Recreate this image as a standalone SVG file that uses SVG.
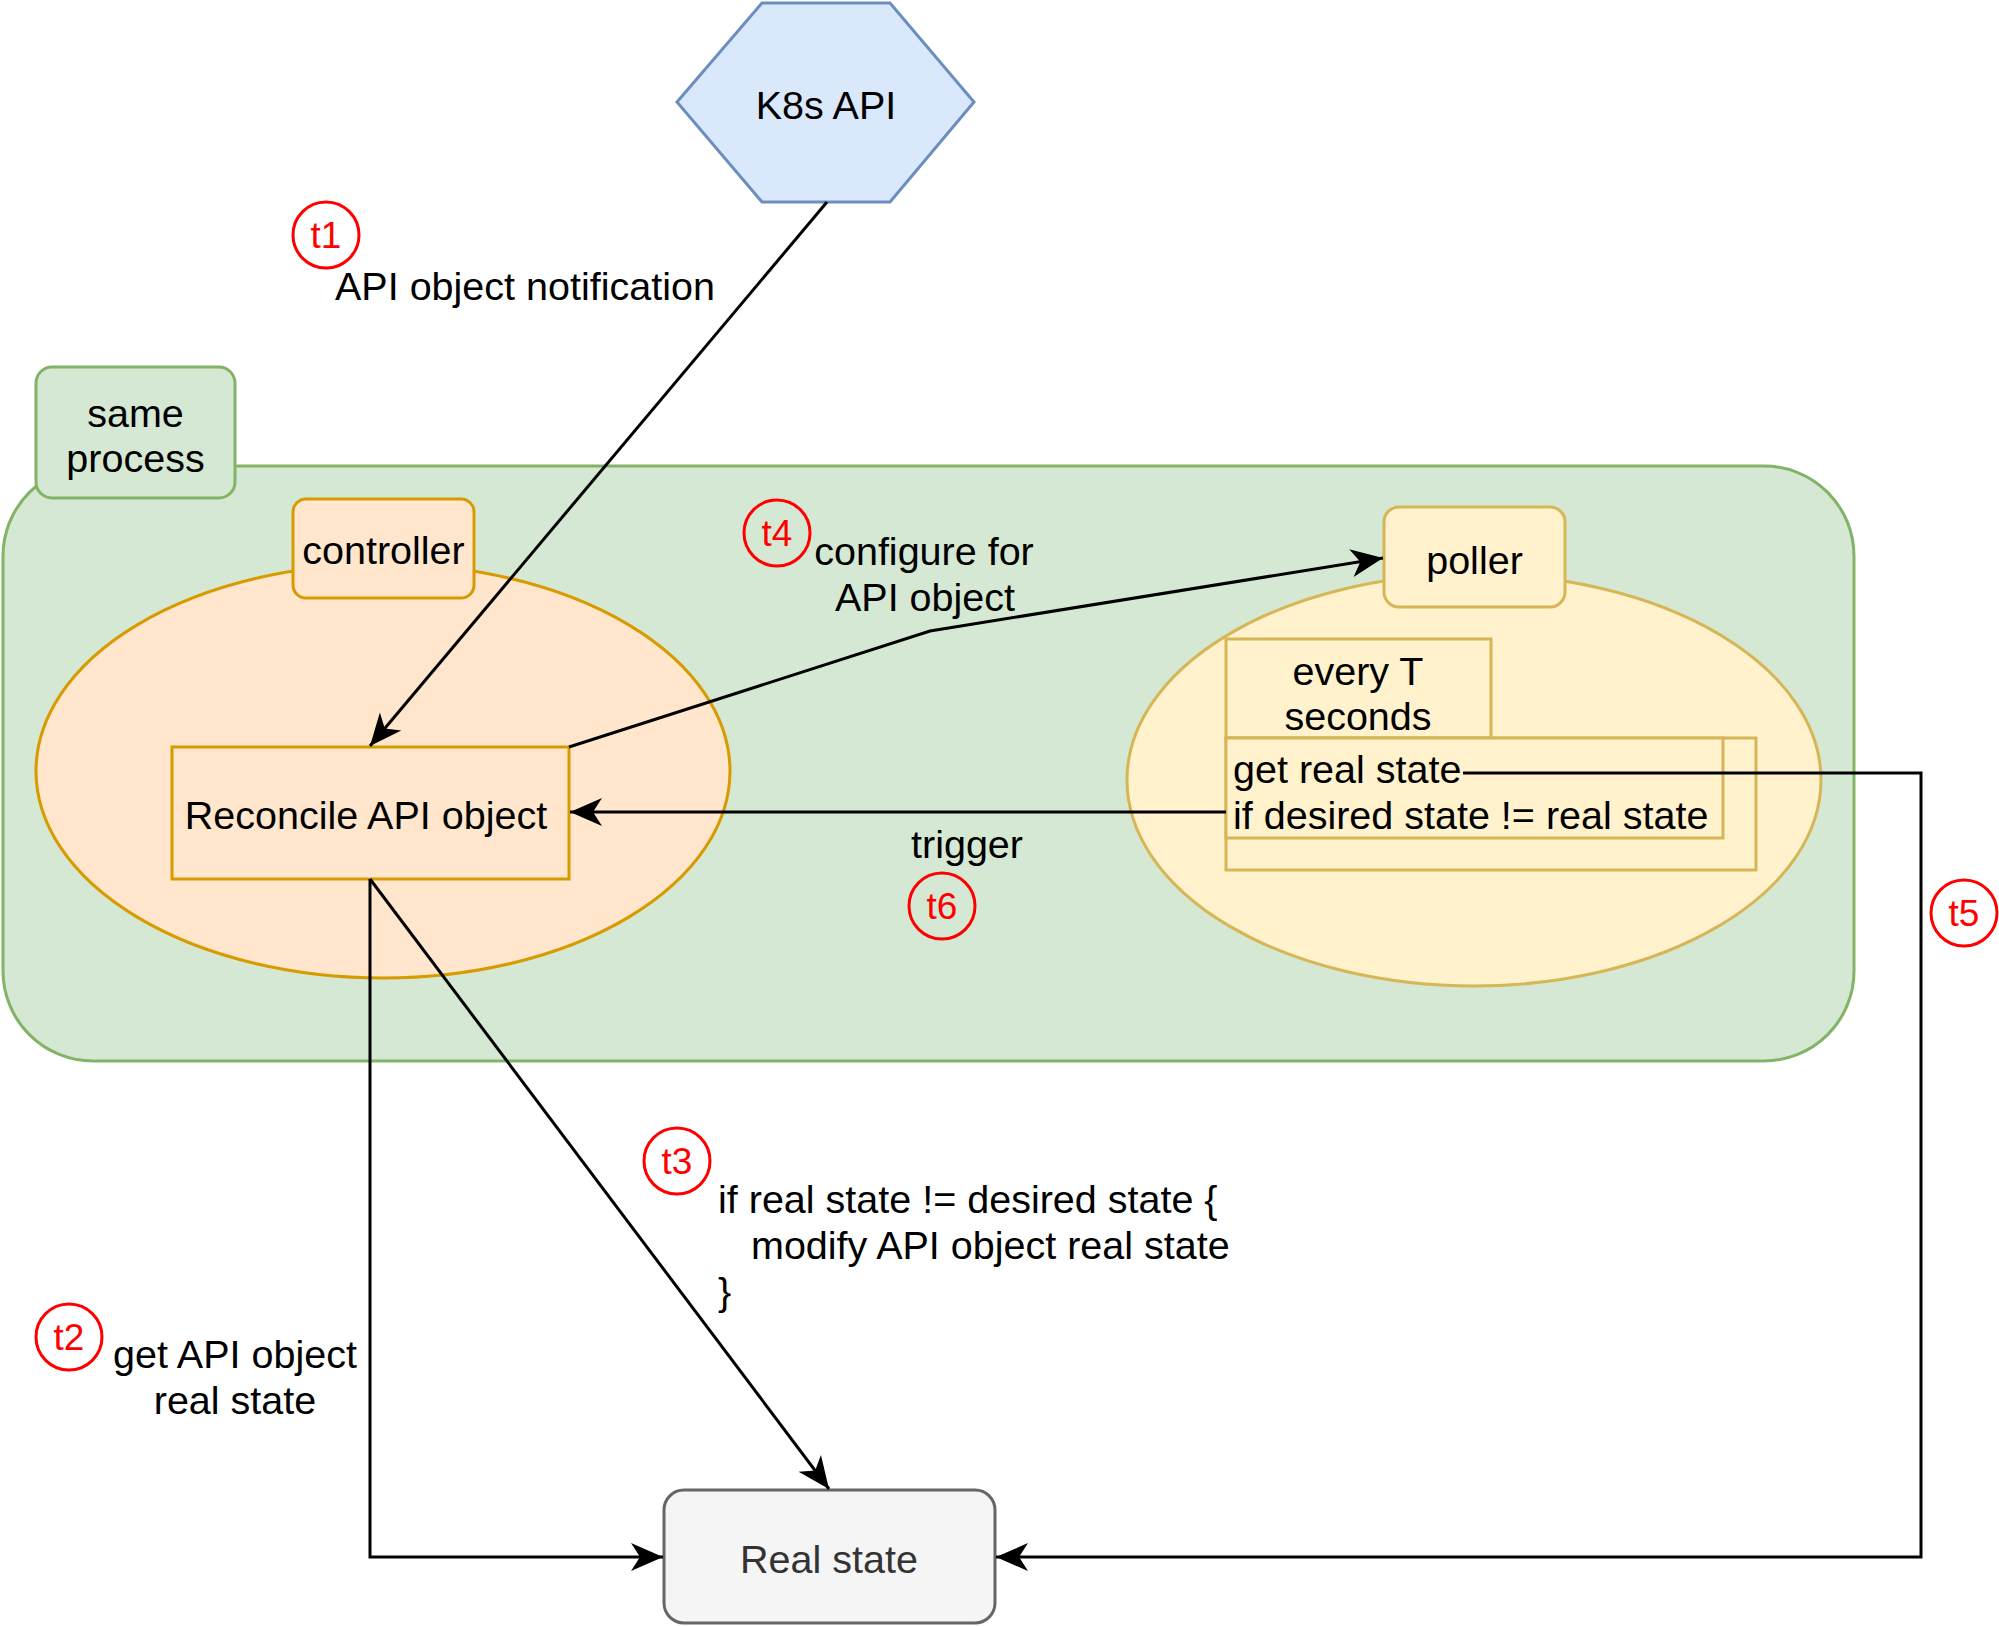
<svg xmlns="http://www.w3.org/2000/svg" width="1999" height="1626" viewBox="0 0 1999 1626">
<style>
text{font-family:"Liberation Sans",Arial,Helvetica,sans-serif;font-size:39.5px;fill:#000}
.c{text-anchor:middle}
.red{fill:#ff0000;font-size:37px;text-anchor:middle}
.badge{fill:none;stroke:#ff0000;stroke-width:3}
.yel{fill:#fff2cc;stroke:#d6b656;stroke-width:3}
.org{fill:#ffe6cc;stroke:#d79b00;stroke-width:3}
.grn{fill:#d5e8d4;stroke:#82b366;stroke-width:3}
.edge{fill:none;stroke:#000;stroke-width:3;marker-end:url(#arr)}
</style>
<defs>
<marker id="arr" markerUnits="userSpaceOnUse" viewBox="-34 -16 36 32" refX="0" refY="0" markerWidth="36" markerHeight="32" orient="auto">
<path d="M0,0 L-32,-14 L-23,0 L-32,14 Z" fill="#000"/>
</marker>
</defs>
<rect width="1999" height="1626" fill="#fff"/>

<g id="process-container">
<rect class="grn" x="3" y="466" width="1851" height="595" rx="90" ry="90"/>
</g>
<g id="same-process">
<rect class="grn" x="36" y="367" width="199" height="131" rx="16" ry="16"/>
<text class="c" x="135.5" y="427">same</text>
<text class="c" x="135.5" y="472">process</text>
</g>

<g id="controller-area">
<ellipse class="org" cx="383" cy="771" rx="347" ry="207"/>
</g>
<g id="controller">
<rect class="org" x="293" y="499" width="181" height="99" rx="13" ry="13"/>
<text class="c" x="383.5" y="564">controller</text>
</g>

<g id="poller-area">
<ellipse class="yel" cx="1474" cy="780" rx="347" ry="206"/>
</g>
<g id="poller">
<rect class="yel" x="1384" y="507" width="181" height="100" rx="15" ry="15"/>
<text class="c" x="1474.5" y="574">poller</text>
</g>
<g id="every-t">
<rect class="yel" x="1226" y="639" width="265" height="99"/>
<text class="c" x="1358" y="685">every T</text>
<text class="c" x="1358" y="730">seconds</text>
</g>
<g id="poll-loop">
<rect class="yel" x="1226" y="738" width="530" height="132"/>
<rect class="yel" x="1226" y="738" width="497" height="100"/>
<text x="1233" y="783">get real state</text>
<text x="1233" y="829">if desired state != real state</text>
</g>

<g id="reconcile">
<rect class="org" x="172" y="747" width="397" height="132"/>
<text class="c" x="366" y="829">Reconcile API object</text>
</g>

<g id="k8s-api">
<polygon points="677,102 762,3 890,3 974,102 890,202 762,202" fill="#dae8fc" stroke="#6c8ebf" stroke-width="3"/>
<text class="c" x="826" y="119">K8s API</text>
</g>

<g id="real-state">
<rect x="664" y="1490" width="331" height="133" rx="20" ry="20" fill="#f5f5f5" stroke="#666666" stroke-width="3"/>
<text class="c" x="829" y="1573" style="fill:#333333">Real state</text>
</g>

<g id="connectors">
<path class="edge" d="M827,202 L370,746"/>
<path class="edge" d="M569,747 L930,631 L1383,558"/>
<path class="edge" d="M1226,812 L570,812"/>
<path class="edge" d="M1463,773 L1921,773 L1921,1557 L996,1557"/>
<path class="edge" d="M370,879 L370,1557 L663,1557"/>
<path class="edge" d="M370,879 L829,1489"/>
</g>

<g id="labels">
<g id="t1"><circle class="badge" cx="326" cy="235" r="33"/><text class="red" x="326" y="248">t1</text></g>
<text x="335" y="300">API object notification</text>

<g id="t4"><circle class="badge" cx="777" cy="533" r="33"/><text class="red" x="777" y="546">t4</text></g>
<text class="c" x="924" y="565">configure for</text>
<text class="c" x="925" y="611">API object</text>

<text class="c" x="967" y="858">trigger</text>
<g id="t6"><circle class="badge" cx="942" cy="906" r="33"/><text class="red" x="942" y="919">t6</text></g>

<g id="t5"><circle class="badge" cx="1964" cy="913" r="33"/><text class="red" x="1964" y="926">t5</text></g>

<g id="t3"><circle class="badge" cx="677" cy="1161" r="33"/><text class="red" x="677" y="1174">t3</text></g>
<text x="718" y="1213">if real state != desired state {</text>
<text x="751" y="1259">modify API object real state</text>
<text x="718" y="1305">}</text>

<g id="t2"><circle class="badge" cx="69" cy="1337" r="33"/><text class="red" x="69" y="1350">t2</text></g>
<text class="c" x="235" y="1368">get API object</text>
<text class="c" x="235" y="1414">real state</text>
</g>
</svg>
